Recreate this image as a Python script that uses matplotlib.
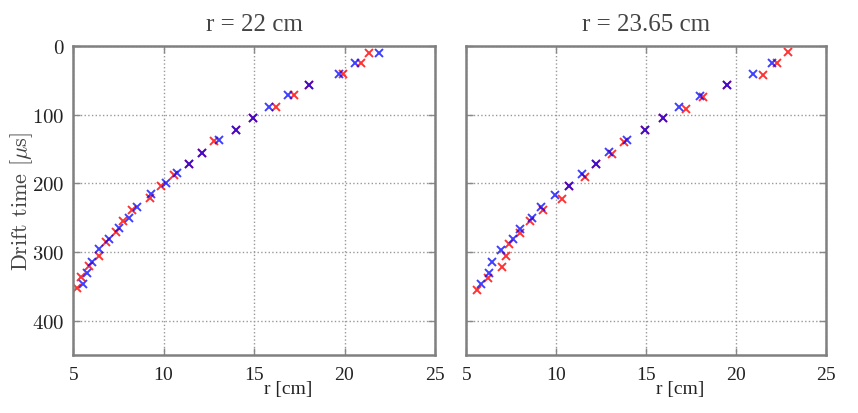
import matplotlib
matplotlib.use('Agg')
import matplotlib.pyplot as plt

# r = 22 cm
r22_red_x = [21.35, 20.93, 19.93, 18.05, 17.2, 16.2, 14.96, 13.99, 12.79, 12.13, 11.43, 10.58,
             9.86, 9.25, 8.28, 7.78, 7.36, 6.84, 6.42, 5.87, 5.45, 5.2]
r22_red_y = [10, 24, 40, 57, 71, 89, 105, 122, 138, 155, 171, 188,
             204, 221, 239, 254, 271, 286, 305, 320, 337, 353]
r22_blue_x = [21.93, 20.6, 19.7, 18.05, 16.9, 15.85, 14.96, 13.99, 13.08, 12.13, 11.43, 10.73,
              10.12, 9.31, 8.52, 8.07, 7.56, 7.0, 6.42, 6.05, 5.78, 5.56]
r22_blue_y = [10, 24, 40, 57, 71, 89, 105, 122, 136, 155, 171, 185,
              200, 216, 234, 250, 265, 281, 296, 314, 330, 346]

# r = 23.65 cm
r2365_red_x = [22.9, 22.26, 21.52, 19.48, 18.15, 17.22, 15.96, 14.96, 13.8, 13.1, 12.22, 11.63,
               10.7, 10.35, 9.26, 8.56, 8.0, 7.41, 7.2, 7.02, 6.2, 5.59]
r2365_red_y = [9, 25, 42, 57, 74, 91, 105, 122, 140, 157, 171, 190,
               203, 222, 239, 255, 272, 288, 306, 321, 338, 355]
r2365_blue_x = [22.0, 20.93, 19.48, 18.0, 16.85, 15.96, 14.96, 13.93, 12.94, 12.22, 11.43,
                10.7, 9.97, 9.17, 8.68, 8.02, 7.59, 6.96, 6.46, 6.3, 5.82]
r2365_blue_y = [25, 40, 57, 72, 89, 105, 122, 137, 154, 171, 186,
                203, 217, 234, 250, 266, 281, 297, 315, 331, 347]

titles = ['r = 22 cm', 'r = 23.65 cm']
serif = ['Liberation Serif', 'DejaVu Serif']
cm = ['cmr10', 'DejaVu Serif']
plt.rcParams['mathtext.fontset'] = 'cm'
plt.rcParams['axes.formatter.use_mathtext'] = True

fig = plt.figure(figsize=(8.58, 4.14), dpi=100)
ax1 = fig.add_axes([0.0851, 0.140, 0.4219, 0.746])
ax2 = fig.add_axes([0.5431, 0.140, 0.4196, 0.746])

data = [(r22_red_x, r22_red_y, r22_blue_x, r22_blue_y),
        (r2365_red_x, r2365_red_y, r2365_blue_x, r2365_blue_y)]

for i, ax in enumerate([ax1, ax2]):
    rx, ry, bx, by = data[i]
    ax.plot(rx, ry, 'x', color='red', ms=5.5, mew=1.4, alpha=0.8)
    ax.plot(bx, by, 'x', color='blue', ms=5.5, mew=1.4, alpha=0.75)
    ax.set_xlim(5, 25)
    ax.set_ylim(450, 0)
    ax.set_xticks([5, 10, 15, 20, 25])
    ax.set_yticks([0, 100, 200, 300, 400])
    ax.grid(True, linestyle=':', color='#999999', linewidth=1)
    for s in ax.spines.values():
        s.set_color('#808080')
        s.set_linewidth(1.8)
    ax.tick_params(direction='in', top=True, right=True, length=5, width=1,
                   color='#888888', labelsize=14, labelcolor='#222222', pad=8)
    ax.tick_params(axis='y', pad=6)
    for lab in ax.get_xticklabels():
        lab.set_family(serif)
    for lab in ax.get_yticklabels():
        lab.set_family(cm)
        lab.set_fontsize(15)
    ax.set_title(titles[i], family=serif, fontsize=18, color='#444444', pad=12)
    ax.set_xlabel('r [cm]', family=serif, fontsize=14, color='#222222')
    ax.xaxis.set_label_coords(0.595, -0.082)

ax2.set_yticklabels([])
ax1.set_ylabel(r'Drift time [$\mu$s]', family=cm, fontsize=16, color='#444444')
ax1.yaxis.set_label_coords(-0.106, 0.5)

plt.savefig('out.png', dpi=100)
